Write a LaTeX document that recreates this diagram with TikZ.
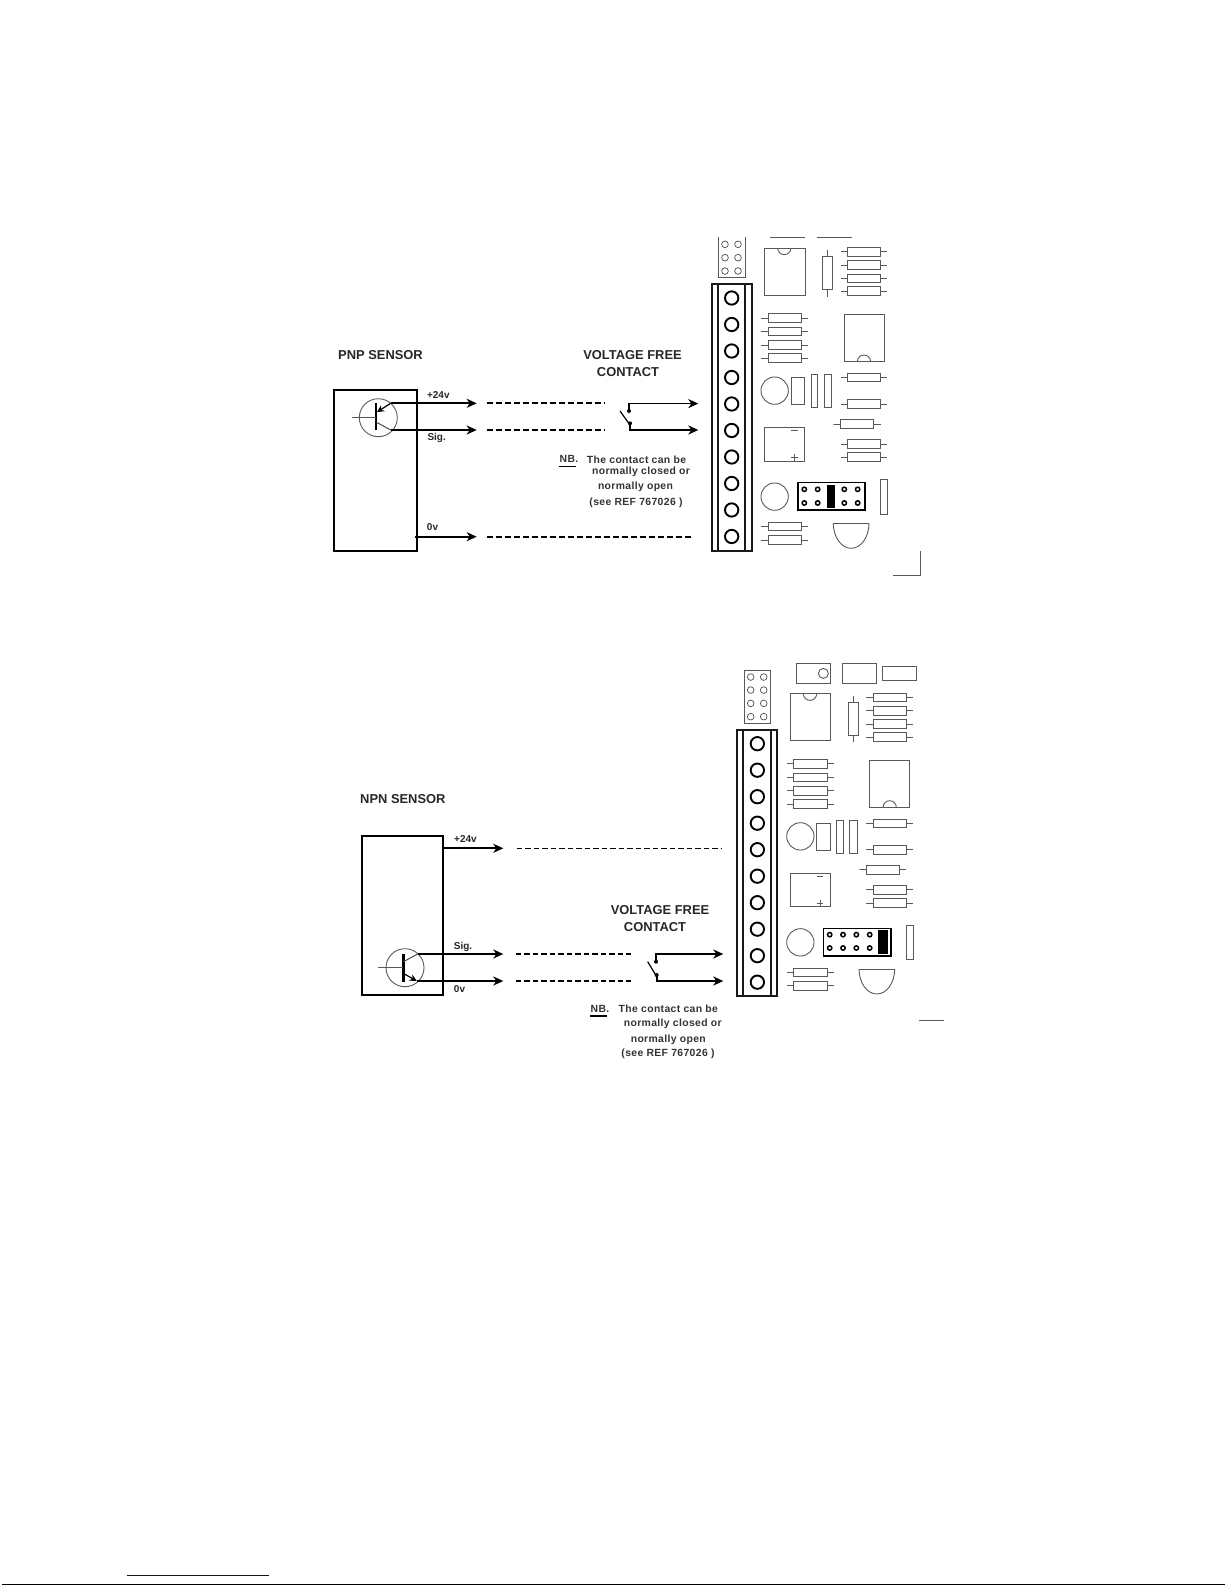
\documentclass[tikz,border=0pt]{standalone}
\usepackage{fontspec}
\setmainfont{Liberation Sans}
\newfontfamily\notefont[LetterSpace=3.4]{Liberation Sans}
\usetikzlibrary{arrows.meta}
\tikzset{
    sensorbox/.style={draw, line width=1.8pt, inner sep=0pt, outer sep=0pt},
    title/.style={font=\bfseries\fontsize{12.9}{14}\selectfont, text=black!85, inner sep=0pt},
    wirelabel/.style={font=\bfseries\fontsize{10}{12}\selectfont, text=black!85, inner sep=0pt},
    note/.style={font=\notefont\bfseries\fontsize{10.4}{12}\selectfont, text=black!80, inner sep=0pt},
    wire/.style={line width=1.7pt, -{Stealth[length=10pt,width=9pt,inset=3pt]}},
    dashwire/.style={line width=2pt, dash pattern=on 6pt off 3pt},
    thindash/.style={line width=1.4pt, dash pattern=on 5.5pt off 3pt},
    thin part/.style={line width=0.9pt, draw=black!65},
    block/.style={line width=1.9pt, draw=black!90},
    nbline/.style={line width=1.2pt},
}
% one resistor: left end of body, centre height
\newcommand{\hres}[2]{
    \draw[thin part, fill=white] (#1-20,#2) -- (#1+120,#2);
    \draw[thin part, fill=white, line width=1pt] (#1,#2-13) rectangle (#1+100,#2+13);
}
% parts that both boards share, in units of a third of a pixel
\newcommand{\boardparts}{
    \draw[block] (50,178) rectangle (170,977);
    \draw[block] (68,178) -- (68,977);
    \draw[block] (150,178) -- (150,977);
    \foreach \y in {219,298.5,378,457.5,537,616.5,696,775.5,855,934.5}
        \draw[line width=1.9pt] (110,\y) circle (20);
    % chips
    \draw[thin part] (208,69) rectangle (330,210);
    \draw[thin part] (248,69) arc (180:0:20);
    \draw[thin part] (447,268) rectangle (567,410);
    \draw[thin part] (487,410) arc (180:360:20);
    % resistors
    \draw[thin part] (398,75) -- (398,215);
    \draw[thin part, fill=white] (383,95) rectangle (412,193);
    \foreach \y in {80,120,160,199,458,537,657,697}
        \hres{457}{\y}
    \foreach \y in {279,320,360,400,905,945}
        \hres{219}{\y}
    \hres{437}{597}
    % round parts and small boxes
    \draw[thin part] (288,457) rectangle (329,538);
    \draw[thin part] (348,448) rectangle (368,547);
    \draw[thin part] (387,448) rectangle (409,547);
    \draw[thin part] (208,607) rectangle (329,708);
    \draw[thin part] (288,616) -- (308,616);
    \draw[thin part] (288,698) -- (308,698) (298,688) -- (298,708);
    \draw[thin part] (239,815) circle (41);
    \draw[thin part] (198,497) arc (180:-180:41);
    \draw[thin part] (556,763) rectangle (577,867);
    \draw[thin part] (415,895) -- (522,895);
    \draw[thin part] (415,895) arc (180:0:53.5 and 75);
    % jumper box
    \draw[line width=1.7pt] (308,773) rectangle (510,856);
}
\begin{document}
\begin{tikzpicture}[x=1pt, y=-1pt]
    \useasboundingbox (0,0) rectangle (1225,1585);
    %% PNP panel
    \node[title, anchor=west] (pnptitle) at (338,355) {PNP SENSOR};
    \node[title] (pnpvolt) at (632.5,355) {VOLTAGE FREE};
    \node[title] (pnpcont) at (628,372) {CONTACT};
    \node[sensorbox, minimum width=82.7pt, minimum height=160.7pt] (pnp) at (375.4,470.4) {};
    \draw[thin part] (378.3,417.7) circle (19);
    \draw[line width=2.6pt] (376,403) -- (376,430);
    \draw[thin part] (351.7,417) -- (376,417);
    \coordinate (pnpE) at (390.7,403.3);
    \coordinate (pnpC) at (390.7,430);
    \coordinate (pnpV) at (476.7,403.3);
    \coordinate (pnpS) at (476.7,430);
    \draw[line width=1.2pt, -{Stealth[length=7pt,width=7pt]}] (pnpE) -- (377,412);
    \draw[line width=1pt, draw=black!70] (376,422) -- (pnpC);
    \draw[wire] (pnpE) -- (pnpV);
    \draw[wire] (pnpC) -- (pnpS);
    \coordinate (pnpZa) at (415,536.7);
    \coordinate (pnpZ) at (476.7,536.7);
    \draw[wire] (pnpZa) -- (pnpZ);
    \node[wirelabel] (pnp24) at (438.3,395) {+24v};
    \node[wirelabel] (pnpsig) at (436.7,438) {Sig.};
    \node[wirelabel] (pnp0v) at (432.5,527) {0v};
    \coordinate (pnpVa) at (486.7,403.3);
    \coordinate (pnpVb) at (605,403.3);
    \coordinate (pnpSa) at (486.7,430);
    \coordinate (pnpSb) at (605,430);
    \coordinate (pnpZb) at (486.7,536.7);
    \coordinate (pnpZc) at (693,536.7);
    \draw[dashwire] (pnpVa) -- (pnpVb);
    \draw[dashwire] (pnpSa) -- (pnpSb);
    \draw[dashwire] (pnpZb) -- (pnpZc);
    % contact
    \coordinate (pnpA) at (629,411);
    \coordinate (pnpB) at (630,423.3);
    \draw[wire] (pnpA) -- (629,403.6) -- (698.3,403.6);
    \draw[wire] (pnpB) -- (630,430) -- (698.3,430);
    \fill (pnpA) circle (2);
    \fill (pnpB) circle (2);
    \draw[line width=1.2pt] (620,411) -- (630,425);
    \node[note] (pnpnb) at (569,459.3) {NB.};
    \draw[nbline] ([yshift=-3.5pt]pnpnb.south west) -- ([xshift=-3pt,yshift=-3.5pt]pnpnb.south east);
    \node[note] (pnpn1) at (636.5,459.3) {The contact can be};
    \node[note] (pnpn2) at (641,472.3) {normally closed or};
    \node[note] (pnpn3) at (635.5,486.7) {normally open};
    \node[note] (pnpn4) at (636,503) {(see REF 767026 )};
    % board, cut off above the third of a pixel row 37
    \begin{scope}[shift={(695,225)}, x=0.3333pt, y=-0.3333pt]
        \begin{scope}
            \clip (-10,37) rectangle (700,990);
            \draw[thin part] (227,-22) rectangle (329,38);
            \draw[thin part] (366,-22) rectangle (468,38);
            \draw[thin part] (70,-2) rectangle (150,158);
            \foreach \x in {90,129} \foreach \y in {19,58,98,138}
                \draw[line width=0.7pt, draw=black!70] (\x,\y) circle (10);
        \end{scope}
        \boardparts
        \foreach \x in {328,368,448,488} \foreach \y in {793,834}
            \draw[line width=1.5pt, fill=white] (\x,\y) circle (6.5);
        \fill (397,781) rectangle (420,850);
        \draw[thin part] (595,1052) -- (675,1052) -- (675,977);
    \end{scope}
    %% NPN panel
    \node[title, anchor=west] (npntitle) at (360,799) {NPN SENSOR};
    \node[title] (npnvolt) at (660,910) {VOLTAGE FREE};
    \node[title] (npncont) at (655,926.7) {CONTACT};
    \node[sensorbox, minimum width=81.6pt, minimum height=159.3pt] (npn) at (402.5,915.3) {};
    \draw[thin part] (405,967.7) circle (19);
    \draw[line width=2.6pt] (403.3,954) -- (403.3,981.7);
    \draw[thin part] (378.3,967.7) -- (403.3,967.7);
    \coordinate (npnC) at (417.7,954);
    \coordinate (npnE) at (416.7,981);
    \coordinate (npnV) at (503.3,848.3);
    \coordinate (npnS) at (503.3,954);
    \coordinate (npnZ) at (503.3,981);
    \coordinate (npnVa) at (441.7,848.3);
    \draw[line width=1pt, draw=black!70] (403.3,961.7) -- (npnC);
    \draw[line width=1.2pt, -{Stealth[length=7pt,width=7pt]}] (403.3,973.3) -- (npnE);
    \draw[wire] (npnVa) -- (npnV);
    \draw[wire] (npnC) -- (npnS);
    \draw[wire] (npnE) -- (npnZ);
    \draw[line width=2.6pt] (npnE) -- (445,981);
    \node[wirelabel] (npn24) at (465.5,839.3) {+24v};
    \node[wirelabel] (npnsig) at (463,946.7) {Sig.};
    \node[wirelabel] (npn0v) at (459.5,989) {0v};
    \coordinate (npnVb) at (516.7,848.3);
    \coordinate (npnVc) at (721.7,848.3);
    \coordinate (npnSa) at (515.7,954);
    \coordinate (npnSb) at (631,954);
    \coordinate (npnZa) at (515.7,981);
    \coordinate (npnZb) at (631,981);
    \draw[thindash] (npnVb) -- (npnVc);
    \draw[thindash] (npnSa) -- (npnSb);
    \draw[thindash] (npnZa) -- (npnZb);
    % contact
    \coordinate (npnA) at (656,961.7);
    \coordinate (npnB) at (656.7,975);
    \draw[wire] (npnA) -- (656,954) -- (723.3,954);
    \draw[wire] (npnB) -- (656.7,981) -- (723.3,981);
    \fill (npnA) circle (2);
    \fill (npnB) circle (2);
    \draw[line width=1.2pt] (647.7,961.7) -- (656.7,976.7);
    \node[note] (npnnb) at (600,1008.7) {NB.};
    \draw[nbline] ([yshift=-3.5pt]npnnb.south west) -- ([xshift=-3pt,yshift=-3.5pt]npnnb.south east);
    \node[note] (npnn1) at (668.3,1008.7) {The contact can be};
    \node[note] (npnn2) at (672.8,1024) {normally closed or};
    \node[note] (npnn3) at (668.3,1039.3) {normally open};
    \node[note] (npnn4) at (668,1054) {(see REF 767026 )};
    % board
    \begin{scope}[shift={(720.7,670.7)}, x=0.3333pt, y=-0.3333pt]
        \draw[thin part] (227,-22) rectangle (329,38);
        \draw[thin part] (308,8) circle (15);
        \draw[thin part] (366,-22) rectangle (468,38);
        \draw[thin part] (486,-13) rectangle (587,29);
        \draw[thin part] (70,-2) rectangle (150,158);
        \foreach \x in {90,129} \foreach \y in {19,58,98,138}
            \draw[line width=0.7pt, draw=black!70] (\x,\y) circle (10);
        \boardparts
        \foreach \x in {327,367,407,447} \foreach \y in {792,832}
            \draw[line width=1.5pt, fill=white] (\x,\y) circle (6.5);
        \fill (471,778) rectangle (501,851);
    \end{scope}
    \draw[line width=1pt, draw=black!65] (919,1020.7) -- (944,1020.7);
    %% foot of the page
    \draw[line width=1pt, draw=blue!80!black] (126.7,1575) -- (268.7,1575);
    \draw[line width=1pt] (2,1584.5) -- (1225,1584.5);
\end{tikzpicture}
\end{document}
